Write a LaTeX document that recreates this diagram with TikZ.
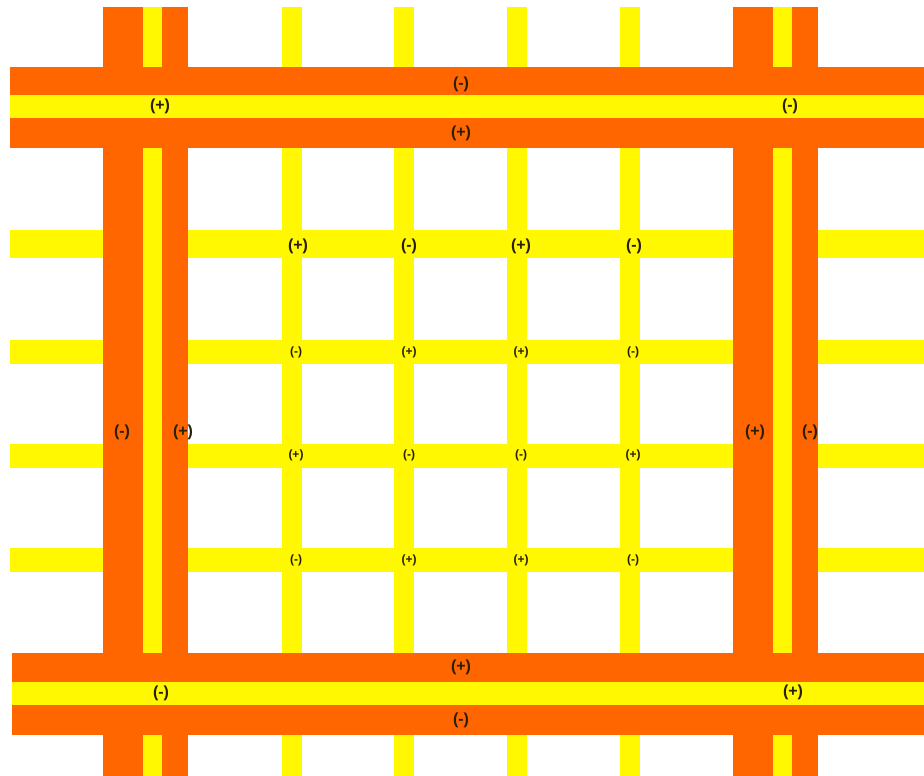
\documentclass[tikz,border=0pt]{standalone}
\usepackage{fontspec}
\setmainfont{Liberation Sans}
\definecolor{bandorange}{RGB}{255,102,0}
\definecolor{stripeyellow}{RGB}{255,248,0}
\definecolor{signdark}{RGB}{40,30,10}

\begin{document}
\begin{tikzpicture}[
    x=1pt, y=-1pt,
    stripe/.style={fill=stripeyellow},
    band/.style={fill=bandorange},
    bigsign/.style={font=\bfseries\fontsize{16}{16}\selectfont, text=signdark, inner sep=0pt},
    smallsign/.style={font=\bfseries\fontsize{12}{12}\selectfont, text=signdark, inner sep=0pt}
]
    \useasboundingbox (0,0) rectangle (924,776);

    % Thin grid stripes
    \foreach \x in {292,404,517,630}
        \fill [stripe] (\x-10,7) rectangle (\x+10,776);
    \fill [stripe] (10,230) rectangle (924,258);
    \foreach \y in {352,456,560}
        \fill [stripe] (10,\y-12) rectangle (924,\y+12);

    % Vertical bands
    \foreach \x in {145.5,775} {
        \fill [band] (\x-42.5,7) rectangle (\x+42.5,776);
        \fill [stripe] (\x-2.5,7) rectangle (\x+16.5,776);
    }

    % Horizontal bands
    \fill [band] (10,67) rectangle (924,148);
    \fill [stripe] (10,95) rectangle (924,118);
    \fill [band] (12,653) rectangle (924,735);
    \fill [stripe] (12,682) rectangle (924,705);

    % Band signs
    \node (topneg) [bigsign] at (461,84) {(-)};
    \node (toppos) [bigsign] at (461,133) {(+)};
    \node (topleft) [bigsign] at (160,106) {(+)};
    \node (topright) [bigsign] at (790,106) {(-)};
    \node (botpos) [bigsign] at (461,667) {(+)};
    \node (botneg) [bigsign] at (461,720) {(-)};
    \node (botleft) [bigsign] at (161,693) {(-)};
    \node (botright) [bigsign] at (793,692) {(+)};
    \node (leftout) [bigsign] at (122,432) {(-)};
    \node (leftin) [bigsign] at (183,432) {(+)};
    \node (rightin) [bigsign] at (755,432) {(+)};
    \node (rightout) [bigsign] at (810,432) {(-)};

    % Grid signs
    \node (ga1) [bigsign] at (298,246) {(+)};
    \node (ga2) [bigsign] at (409,246) {(-)};
    \node (ga3) [bigsign] at (521,246) {(+)};
    \node (ga4) [bigsign] at (634,246) {(-)};
    \node (gb1) [smallsign] at (296,352) {(-)};
    \node (gb2) [smallsign] at (409,352) {(+)};
    \node (gb3) [smallsign] at (521,352) {(+)};
    \node (gb4) [smallsign] at (633,352) {(-)};
    \node (gc1) [smallsign] at (296,455) {(+)};
    \node (gc2) [smallsign] at (409,455) {(-)};
    \node (gc3) [smallsign] at (521,455) {(-)};
    \node (gc4) [smallsign] at (633,455) {(+)};
    \node (gd1) [smallsign] at (296,560) {(-)};
    \node (gd2) [smallsign] at (409,560) {(+)};
    \node (gd3) [smallsign] at (521,560) {(+)};
    \node (gd4) [smallsign] at (633,560) {(-)};

\end{tikzpicture}
\end{document}
